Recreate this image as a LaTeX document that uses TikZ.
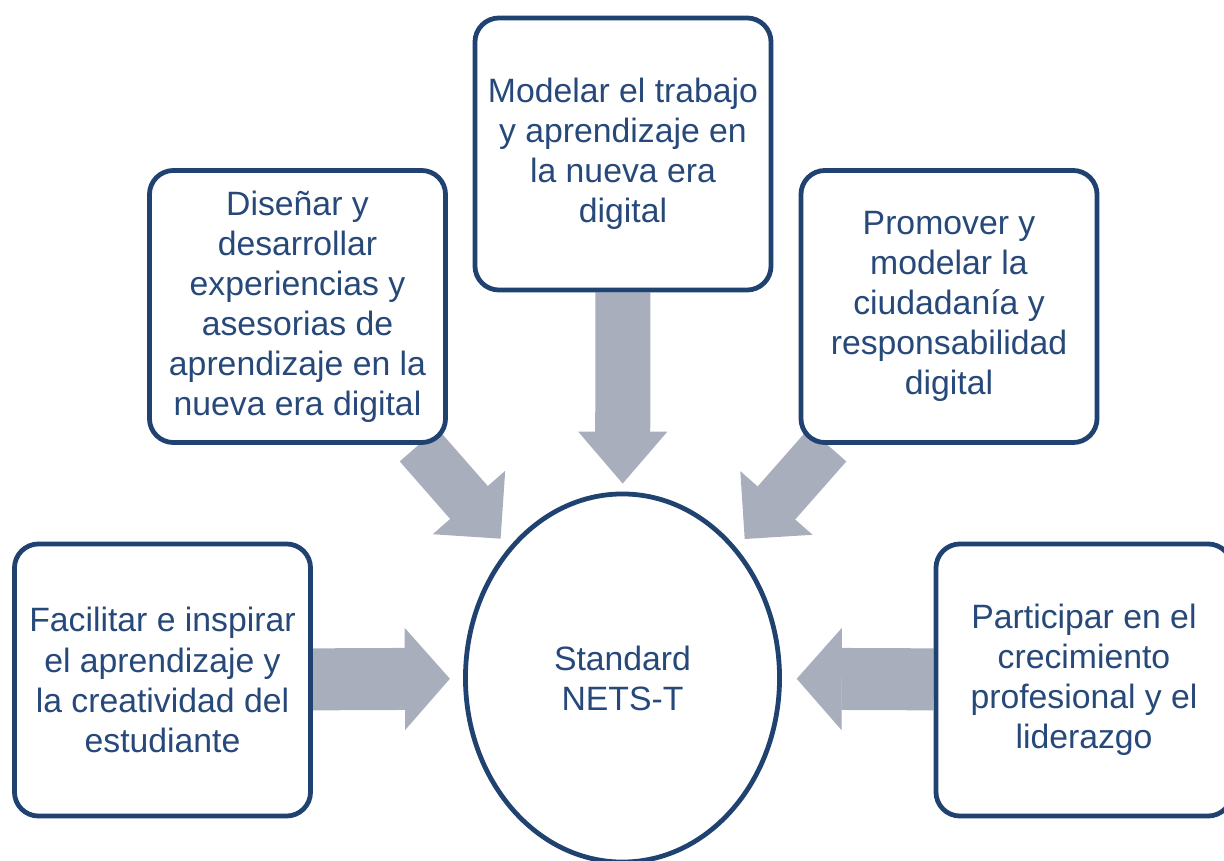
\documentclass[tikz,border=0pt]{standalone}
\usepackage{fontspec}
\setmainfont{Liberation Sans}
\usetikzlibrary{arrows.meta,shapes.geometric,backgrounds}
\definecolor{navy}{HTML}{1F4270}
\definecolor{textblue}{HTML}{27497A}
\definecolor{arrowgray}{HTML}{A9AEBC}
\tikzset{
  box/.style={draw=navy, line width=3.4pt, rounded corners=0.6cm, fill=white,
    minimum width=7.4cm, minimum height=6.8cm, align=center, text=textblue,
    font=\fontsize{24}{28.5}\selectfont},
  hub/.style={box, ellipse, rounded corners=0pt, minimum width=7.85cm, minimum height=9.2cm},
  flecha/.style={draw=arrowgray, line width=#1}
}
\begin{document}
\begin{tikzpicture}[x=0.025cm, y=-0.025cm]
\useasboundingbox (0,0) rectangle (1224,861);

\node[hub] (core) at (622.5,678) {Standard\\NETS-T};
\node[box] (top) at (623,154) {Modelar el trabajo\\y aprendizaje en\\la nueva era\\digital};
\node[box] (uleft) at (297.5,306.5) {Diseñar y\\desarrollar\\experiencias y\\asesorias de\\aprendizaje en la\\nueva era digital};
\node[box] (uright) at (949,306.5) {Promover y\\modelar la\\ciudadanía y\\responsabilidad\\digital};
\node[box] (left) at (162.5,680) {Facilitar e inspirar\\el aprendizaje y\\la creatividad del\\estudiante};
\node[box] (right) at (1084,680) {Participar en el\\crecimiento\\profesional y el\\liderazgo};

% block arrows into the hub
\begin{scope}[on background layer]
\foreach \src/\sw/\hw/\hl/\gap in {top/1.375/2.225/1.3/0.2, uleft/1.25/2.4/1.2/0.3, uright/1.25/2.4/1.2/0.3, left/1.55/2.55/1.125/0.33, right/1.55/2.55/1.125/0.37} {
  \draw[flecha=\sw cm, -{Triangle[length=\hl cm, width=\hw cm, line width=1pt]}, shorten >=\gap cm] (\src) -- (core);
}
\end{scope}
\end{tikzpicture}
\end{document}
